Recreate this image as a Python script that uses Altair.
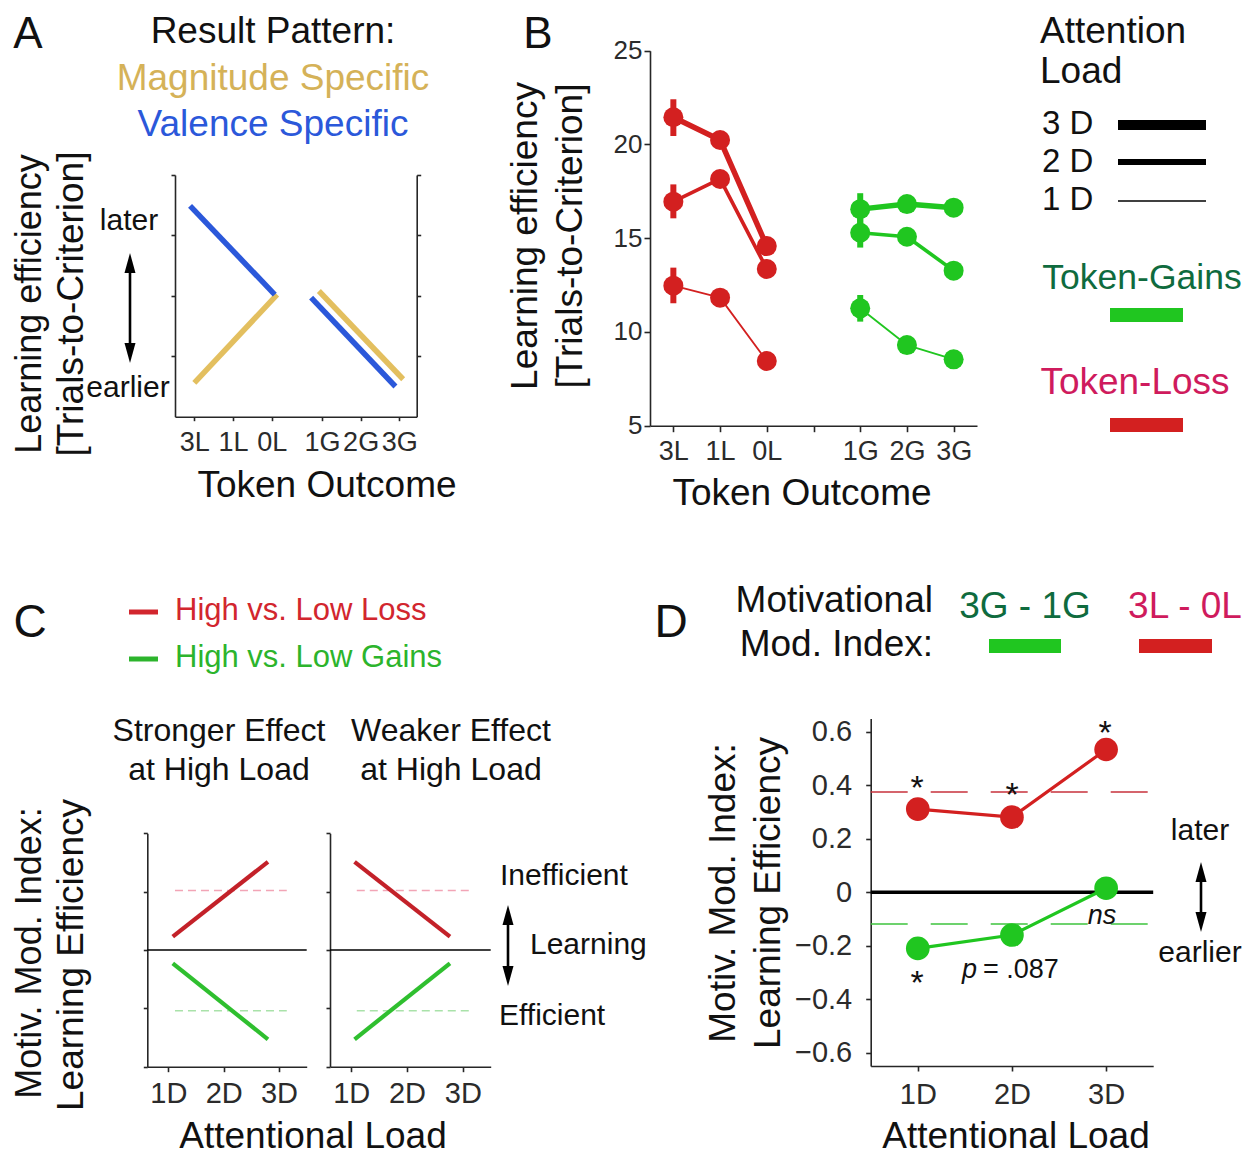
import json
import altair as alt
import pandas as pd

W, H = 1237, 1150
OFF = 8
FONT = "Liberation Sans"
INK = "#111111"
AXC = "#262626"
LBL = "#2b2b2b"

BLUE = "#2B58DA"
GOLD = "#E3BF5F"
TITLE_GOLD = "#D5B258"
RED = "#D32020"
GREEN = "#20C620"
C_RED = "#C32129"
C_GREEN = "#2FBF2F"
C_RED_REF = "#F2A5B6"
C_GREEN_REF = "#A9E2A9"
D_RED_REF = "#C8323C"
D_GREEN_REF = "#3EC43E"
DARK_GREEN = "#0F6B3E"
CRIMSON = "#CF1B5D"
LEG_RED = "#D2262E"
LEG_GREEN = "#2CB42C"

# ---------------- Panel A data (schematic) ----------------
A_TICK_LABELS = ["3L", "1L", "0L", "1G", "2G", "3G"]
A_TICK_POS = [1, 2, 3, 4.3, 5.3, 6.3]
A_VAL_SEG = [0, 0, 1, 1]
A_VAL_X = [0.89, 3.08, 4.02, 6.20]
A_VAL_Y = [3.49, 2.02, 1.97, 0.50]
A_MAG_SEG = [0, 0, 1, 1]
A_MAG_X = [1.00, 3.14, 4.22, 6.40]
A_MAG_Y = [0.56, 2.02, 2.08, 0.62]

# ---------------- Panel B data ----------------
B_TICK_LABELS = ["3L", "1L", "0L", "", "1G", "2G", "3G"]
B_TICK_POS = [1, 2, 3, 4, 5, 6, 7]
B_LOSS_POS = [1, 2, 3]
B_GAIN_POS = [5, 6, 7]
B_LOADS = ["1D", "2D", "3D"]
B_LOSS = {"3D": [21.45, 20.24, 14.58], "2D": [16.95, 18.16, 13.36], "1D": [12.47, 11.83, 8.45]}
B_GAIN = {"3D": [16.55, 16.82, 16.63], "2D": [15.29, 15.08, 13.27], "1D": [11.26, 9.30, 8.54]}
B_LOSS_ERR = {"3D": [20.45, 22.41], "2D": [16.06, 17.87], "1D": [11.53, 13.43]}   # at 3L
B_GAIN_ERR = {"3D": [15.75, 17.40], "2D": [14.50, 16.10], "1D": [10.55, 11.97]}   # at 1G

# ---------------- Panel C data (schematic) ----------------
C_TICK_LABELS = ["1D", "2D", "3D"]
C_TICK_POS = [1, 2, 3]
C_LINE_X = {"strong": [1.08, 2.80], "weak": [1.06, 2.77]}
C_LOSS_Y = {"strong": [0.23, 1.51], "weak": [1.51, 0.23]}
C_GAIN_Y = {"strong": [-0.23, -1.53], "weak": [-1.53, -0.23]}
C_REF_X = {"strong": [1.12, 3.14], "weak": [1.10, 3.14]}
C_LOSS_REF = 1.02
C_GAIN_REF = -1.04
C_X_DOMAIN = [0.62, 3.5]
C_Y_DOMAIN = [-2, 2]

# ---------------- Panel D data ----------------
D_TICK_LABELS = ["1D", "2D", "3D"]
D_POS = [1, 2, 3]
D_LOSS = [0.311, 0.281, 0.534]
D_GAIN = [-0.210, -0.160, 0.015]
D_LOSS_REF = 0.375
D_GAIN_REF = -0.119
D_X_DOMAIN = [0.5, 3.5]
D_Y_DOMAIN = [-0.65, 0.65]
D_Y_TICKS = [-0.6, -0.4, -0.2, 0, 0.2, 0.4, 0.6]


def lin(domain, rng):
    return alt.Scale(domain=domain, range=[r - OFF for r in rng], nice=False, zero=False)


def axis(orient, offset, values, labels=True, size=26, tick=5, pad=3, expr=None):
    kw = dict(orient=orient, offset=offset, values=values, title=None, grid=False,
              domainColor=AXC, domainWidth=1.6, tickColor=AXC, tickWidth=1.6, tickSize=tick,
              labels=labels, labelFont=FONT, labelFontSize=size, labelColor=LBL,
              labelPadding=pad, labelOverlap=False, labelFlush=False, labelBound=False)
    if expr is not None:
        kw["labelExpr"] = expr
    return alt.Axis(**kw)


def lookup_expr(pos, labels):
    return f"{json.dumps(labels)}[indexof({json.dumps(pos)}, datum.value)]"


def left_off(x_page):
    return -(x_page - OFF)


def right_off(x_page):
    return -(W - (x_page - OFF))


def bottom_off(y_page):
    return -(H - (y_page - OFF))


def one():
    return pd.DataFrame({"a": [0]})


def txt(s, x, y, size=37, color=INK, align="center", angle=0, style="normal"):
    return alt.Chart(pd.DataFrame({"t": [s]})).mark_text(
        font=FONT, fontSize=size, color=color, align=align, baseline="middle",
        angle=angle, fontStyle=style
    ).encode(x=alt.value(x - OFF), y=alt.value(y - OFF), text="t:N")


def hbar(x1, x2, y, width, color):
    return alt.Chart(one()).mark_rule(color=color, strokeWidth=width).encode(
        x=alt.value(x1 - OFF), x2=alt.value(x2 - OFF), y=alt.value(y - OFF))


def varrow(x, ytop, ybot, head=20):
    shaft = alt.Chart(one()).mark_rule(color="black", strokeWidth=2.6).encode(
        x=alt.value(x - OFF), y=alt.value(ytop + head * 0.8 - OFF), y2=alt.value(ybot - head * 0.8 - OFF))
    up = alt.Chart(one()).mark_point(shape="M0,-1L0.55,1L-0.55,1Z", filled=True, size=head * head,
                                     color="black", opacity=1, strokeWidth=0).encode(
        x=alt.value(x - OFF), y=alt.value(ytop + head / 2 - OFF))
    down = alt.Chart(one()).mark_point(shape="M0,1L0.55,-1L-0.55,-1Z", filled=True, size=head * head,
                                       color="black", opacity=1, strokeWidth=0).encode(
        x=alt.value(x - OFF), y=alt.value(ybot - head / 2 - OFF))
    return [shaft, up, down]


layers = []

# ======================= Panel A =======================
a_x = lin([0.5, 6.75], [175, 416.7])
a_y = lin([0, 4], [416.7, 175])
dfA_val = pd.DataFrame({"seg": A_VAL_SEG, "x": A_VAL_X, "y": A_VAL_Y})
dfA_mag = pd.DataFrame({"seg": A_MAG_SEG, "x": A_MAG_X, "y": A_MAG_Y})
layers.append(alt.Chart(dfA_mag).mark_line(color=GOLD, strokeWidth=5.5).encode(
    x=alt.X("x:Q", scale=a_x, axis=axis("bottom", bottom_off(416.7), A_TICK_POS, size=27, tick=4, pad=9,
                                        expr=lookup_expr(A_TICK_POS, A_TICK_LABELS))),
    y=alt.Y("y:Q", scale=a_y, axis=axis("right", right_off(416.7), [1, 2, 3, 4], labels=False, tick=4)),
    detail="seg:N"))
layers.append(alt.Chart(dfA_val).mark_line(color=BLUE, strokeWidth=5.5).encode(
    x=alt.X("x:Q", scale=a_x, axis=None),
    y=alt.Y("y:Q", scale=a_y, axis=axis("left", left_off(175), [1, 2, 3, 4], labels=False, tick=4)),
    detail="seg:N"))

# ======================= Panel B =======================
rows, err_rows = [], []
for load in B_LOADS:
    for p, v in zip(B_LOSS_POS, B_LOSS[load]):
        rows.append(dict(pos=p, val=v, kind="loss", load=load, series="loss" + load))
    for p, v in zip(B_GAIN_POS, B_GAIN[load]):
        rows.append(dict(pos=p, val=v, kind="gain", load=load, series="gain" + load))
    err_rows.append(dict(pos=B_LOSS_POS[0], lo=B_LOSS_ERR[load][0], hi=B_LOSS_ERR[load][1], kind="loss"))
    err_rows.append(dict(pos=B_GAIN_POS[0], lo=B_GAIN_ERR[load][0], hi=B_GAIN_ERR[load][1], kind="gain"))
dfB = pd.DataFrame(rows)
dfBerr = pd.DataFrame(err_rows)

b_x = lin([0.5, 7.5], [650, 977])
b_y = lin([5, 25], [425.7, 50.7])
colB = alt.Color("kind:N", scale=alt.Scale(domain=["loss", "gain"], range=[RED, GREEN]), legend=None)

layers.append(alt.Chart(dfB).mark_line(strokeJoin="round").encode(
    x=alt.X("pos:Q", scale=b_x, axis=axis("bottom", bottom_off(425.7), B_TICK_POS, size=27, tick=6, pad=7,
                                          expr=lookup_expr(B_TICK_POS, B_TICK_LABELS))),
    y=alt.Y("val:Q", scale=b_y, axis=axis("left", left_off(650), [5, 10, 15, 20, 25], size=26, tick=6, pad=2)),
    color=colB,
    strokeWidth=alt.StrokeWidth("load:O", scale=alt.Scale(domain=B_LOADS, range=[1.8, 5.5, 8]), legend=None),
    detail="series:N"))
layers.append(alt.Chart(dfBerr).mark_rule(strokeWidth=6).encode(
    x=alt.X("pos:Q", scale=b_x, axis=None),
    y=alt.Y("lo:Q", scale=b_y, axis=None), y2="hi:Q", color=colB))
layers.append(alt.Chart(dfB).mark_circle(size=400, opacity=1).encode(
    x=alt.X("pos:Q", scale=b_x, axis=None),
    y=alt.Y("val:Q", scale=b_y, axis=None),
    color=colB))


# ======================= Panel C =======================
def c_panel(key, x_left, x_right):
    cx = lin(C_X_DOMAIN, [x_left, x_right])
    cy = lin(C_Y_DOMAIN, [1066.7, 833.3])
    zero = pd.DataFrame({"x1": [C_X_DOMAIN[0]], "x2": [C_X_DOMAIN[1]], "y": [0]})
    refs = pd.DataFrame({"x1": [C_REF_X[key][0]] * 2, "x2": [C_REF_X[key][1]] * 2,
                         "y": [C_LOSS_REF, C_GAIN_REF], "kind": ["loss", "gain"]})
    loss = pd.DataFrame({"x": C_LINE_X[key], "y": C_LOSS_Y[key]})
    gain = pd.DataFrame({"x": C_LINE_X[key], "y": C_GAIN_Y[key]})
    z = alt.Chart(zero).mark_rule(color="black", strokeWidth=1.6).encode(
        x=alt.X("x1:Q", scale=cx, axis=axis("bottom", bottom_off(1066.7), C_TICK_POS, size=29, tick=5, pad=8,
                                            expr=lookup_expr(C_TICK_POS, C_TICK_LABELS))),
        x2="x2:Q",
        y=alt.Y("y:Q", scale=cy, axis=axis("left", left_off(x_left), [-2, -1, 0, 1, 2], labels=False, tick=4)))
    rl = alt.Chart(refs[refs.kind == "loss"]).mark_rule(color=C_RED_REF, strokeWidth=1.6, strokeDash=[8, 5]).encode(
        x=alt.X("x1:Q", scale=cx, axis=None), x2="x2:Q", y=alt.Y("y:Q", scale=cy, axis=None))
    rg = alt.Chart(refs[refs.kind == "gain"]).mark_rule(color=C_GREEN_REF, strokeWidth=1.6, strokeDash=[8, 5]).encode(
        x=alt.X("x1:Q", scale=cx, axis=None), x2="x2:Q", y=alt.Y("y:Q", scale=cy, axis=None))
    ll = alt.Chart(loss).mark_line(color=C_RED, strokeWidth=4.2).encode(
        x=alt.X("x:Q", scale=cx, axis=None), y=alt.Y("y:Q", scale=cy, axis=None))
    lg = alt.Chart(gain).mark_line(color=C_GREEN, strokeWidth=4.2).encode(
        x=alt.X("x:Q", scale=cx, axis=None), y=alt.Y("y:Q", scale=cy, axis=None))
    return [z, rl, rg, ll, lg]


layers += c_panel("strong", 147.3, 306.7)
layers += c_panel("weak", 330, 490.7)

# ======================= Panel D =======================
d_x = lin(D_X_DOMAIN, [870.7, 1153.2])
d_y = lin(D_Y_DOMAIN, [1066, 718.5])
dzero = pd.DataFrame({"x1": [D_X_DOMAIN[0]], "x2": [D_X_DOMAIN[1]], "y": [0]})
drefs = pd.DataFrame({"x1": [D_X_DOMAIN[0]] * 2, "x2": [D_X_DOMAIN[1]] * 2,
                      "y": [D_LOSS_REF, D_GAIN_REF], "kind": ["loss", "gain"]})
dloss = pd.DataFrame({"x": D_POS, "y": D_LOSS})
dgain = pd.DataFrame({"x": D_POS, "y": D_GAIN})
layers.append(alt.Chart(dzero).mark_rule(color="black", strokeWidth=3.6).encode(
    x=alt.X("x1:Q", scale=d_x, axis=axis("bottom", bottom_off(1066), D_POS, size=29, tick=5, pad=9,
                                         expr=lookup_expr(D_POS, D_TICK_LABELS))),
    x2="x2:Q",
    y=alt.Y("y:Q", scale=d_y, axis=axis("left", left_off(870.7), D_Y_TICKS, size=29, tick=5, pad=14,
                                        expr="datum.value == 0 ? '0' : format(datum.value, '.1f')"))))
layers.append(alt.Chart(drefs[drefs.kind == "loss"]).mark_rule(color=D_RED_REF, strokeWidth=1.6, strokeDash=[37, 23]).encode(
    x=alt.X("x1:Q", scale=d_x, axis=None), x2="x2:Q", y=alt.Y("y:Q", scale=d_y, axis=None)))
layers.append(alt.Chart(drefs[drefs.kind == "gain"]).mark_rule(color=D_GREEN_REF, strokeWidth=1.6, strokeDash=[37, 23]).encode(
    x=alt.X("x1:Q", scale=d_x, axis=None), x2="x2:Q", y=alt.Y("y:Q", scale=d_y, axis=None)))
layers.append(alt.Chart(dloss).mark_line(color=RED, strokeWidth=3.2).encode(
    x=alt.X("x:Q", scale=d_x, axis=None), y=alt.Y("y:Q", scale=d_y, axis=None)))
layers.append(alt.Chart(dgain).mark_line(color=GREEN, strokeWidth=3.2).encode(
    x=alt.X("x:Q", scale=d_x, axis=None), y=alt.Y("y:Q", scale=d_y, axis=None)))
layers.append(alt.Chart(dloss).mark_circle(color=RED, size=560, opacity=1).encode(
    x=alt.X("x:Q", scale=d_x, axis=None), y=alt.Y("y:Q", scale=d_y, axis=None)))
layers.append(alt.Chart(dgain).mark_circle(color=GREEN, size=560, opacity=1).encode(
    x=alt.X("x:Q", scale=d_x, axis=None), y=alt.Y("y:Q", scale=d_y, axis=None)))

# ======================= Annotations =======================
ann = [
    # Panel A
    txt("A", 28, 35, size=44),
    txt("Result Pattern:", 273, 32),
    txt("Magnitude Specific", 273, 79, color=TITLE_GOLD),
    txt("Valence Specific", 273, 125, color=BLUE),
    txt("later", 129, 221, size=30),
    txt("earlier", 128, 388, size=30),
    txt("Learning efficiency", 30, 304, size=36, angle=270),
    txt("[Trials-to-Criterion]", 72, 304, angle=270),
    txt("Token Outcome", 327, 486),
    # Panel B
    txt("B", 538, 35, size=44),
    txt("Learning efficiency", 526, 236, angle=270),
    txt("[Trials-to-Criterion]", 571, 236, angle=270),
    txt("Token Outcome", 802, 494),
    txt("Attention", 1040, 32, align="left"),
    txt("Load", 1040, 72, align="left"),
    txt("3 D", 1042, 124, size=33, align="left"),
    txt("2 D", 1042, 162, size=33, align="left"),
    txt("1 D", 1042, 200, size=33, align="left"),
    hbar(1118, 1206, 125, 10, "black"),
    hbar(1118, 1206, 162, 6, "black"),
    hbar(1118, 1206, 201, 1.5, "black"),
    txt("Token-Gains", 1142, 278, size=35.5, color=DARK_GREEN),
    hbar(1110, 1183, 315, 14, GREEN),
    txt("Token-Loss", 1135, 383, color=CRIMSON),
    hbar(1110, 1183, 425, 14, RED),
    # Panel C
    txt("C", 30, 623, size=46),
    hbar(129, 158, 612, 5, LEG_RED),
    txt("High vs. Low Loss", 175, 611, size=31, color=LEG_RED, align="left"),
    hbar(129, 158, 659, 5, LEG_GREEN),
    txt("High vs. Low Gains", 175, 658, size=31, color=LEG_GREEN, align="left"),
    txt("Stronger Effect", 219, 731, size=32),
    txt("at High Load", 219, 770, size=32),
    txt("Weaker Effect", 451, 731, size=32),
    txt("at High Load", 451, 770, size=32),
    txt("Inefficient", 500, 876, size=30, align="left"),
    txt("Learning", 530, 945, size=30, align="left"),
    txt("Efficient", 499, 1016, size=30, align="left"),
    txt("Motiv. Mod. Index:", 30, 953, size=36, angle=270),
    txt("Learning Efficiency", 72, 955, angle=270),
    txt("Attentional Load", 313, 1137),
    # Panel D
    txt("D", 671, 623, size=46),
    txt("Motivational", 933, 601, align="right"),
    txt("Mod. Index:", 933, 645, align="right"),
    txt("3G - 1G", 1025, 607, color=DARK_GREEN),
    hbar(989, 1061, 646, 14, GREEN),
    txt("3L - 0L", 1185, 607, color=CRIMSON),
    hbar(1139, 1212, 646, 14, RED),
    txt("later", 1200, 831, size=30),
    txt("earlier", 1200, 953, size=30),
    txt("Motiv. Mod. Index:", 724, 893, angle=270),
    txt("Learning Efficiency", 769, 893, angle=270),
    txt("Attentional Load", 1016, 1137),
    txt("*", 917, 789, size=34),
    txt("*", 1012, 796, size=34),
    txt("*", 1105, 734, size=34),
    txt("*", 917, 984, size=34),
    txt("p", 962, 970, size=27, align="left", style="italic"),
    txt("= .087", 983, 970, size=27, align="left"),
    txt("ns", 1102, 916, size=27, style="italic"),
]
ann += varrow(130, 253, 363)
ann += varrow(508, 905, 986)
ann += varrow(1201, 862, 932)

chart = alt.layer(*layers, *ann).resolve_scale(
    x="independent", y="independent"
).properties(
    width=W, height=H, padding=0, autosize=alt.AutoSizeParams(type="none")
).configure_view(stroke=None)

chart.save("out.html", embed_options={"renderer": "svg", "actions": False})
